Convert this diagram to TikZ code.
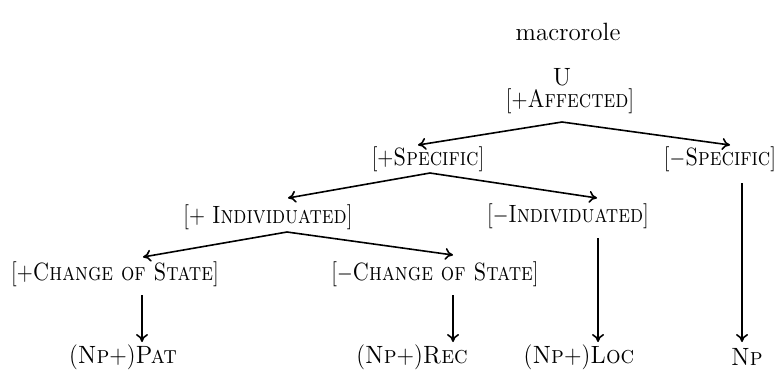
\documentclass[tikz,border=0pt]{standalone}
\usetikzlibrary{arrows.meta}
\newcommand{\nrw}[1]{\scalebox{0.84}[1]{#1}}
\newcommand{\nrwb}[1]{\scalebox{0.92}[1]{#1}}
\begin{document}
\begin{tikzpicture}[x=0.5pt,y=-0.5pt,
  lab/.style={inner sep=0pt,font=\fontsize{12.5}{15}\selectfont},
  arr/.style={-{To[length=4pt,width=6pt]},line width=0.8pt}]
\useasboundingbox (0,0) rectangle (776,372);
\node[lab] (macro) at (568,32) {macrorole};
\node[lab] (u) at (562,77) {U};
\node[lab] (aff) at (570,101) {\nrw{[+\textsc{Affected}]}};
\node[lab] (spec) at (428,159) {\nrw{[+\textsc{Specific}]}};
\node[lab] (nspec) at (720,159) {\nrw{[$-$\textsc{Specific}]}};
\node[lab] (ind) at (268,217) {\nrw{[+ \textsc{Individuated}]}};
\node[lab] (nind) at (568,216) {\nrw{[$-$\textsc{Individuated}]}};
\node[lab] (cos) at (115,274) {\nrw{[+\textsc{Change of State}]}};
\node[lab] (ncos) at (435,274) {\nrw{[$-$\textsc{Change of State}]}};
\node[lab] (pat) at (123,357) {\nrwb{(\textsc{Np}+)\textsc{Pat}}};
\node[lab] (rec) at (412,357) {\nrwb{(\textsc{Np}+)\textsc{Rec}}};
\node[lab] (loc) at (579,357) {\nrwb{(\textsc{Np}+)\textsc{Loc}}};
\node[lab] (np) at (747,357) {\nrwb{\textsc{Np}}};
% connector points
\coordinate (a1) at (562,122);
\coordinate (t1l) at (418,145);
\coordinate (t1r) at (730,145);
\coordinate (a2) at (430,173);
\coordinate (t2l) at (288,198);
\coordinate (t2r) at (597,198);
\coordinate (a3) at (287,232);
\coordinate (t3l) at (143,257);
\coordinate (t3r) at (453,255);
\coordinate (v1s) at (142,295);
\coordinate (v1e) at (142,342);
\coordinate (v2s) at (453,295);
\coordinate (v2e) at (453,342);
\coordinate (v3s) at (598,238);
\coordinate (v3e) at (598,342);
\coordinate (v4s) at (742,183);
\coordinate (v4e) at (742,342);
\draw[arr] (a1) -- (t1l);
\draw[arr] (a1) -- (t1r);
\draw[arr] (a2) -- (t2l);
\draw[arr] (a2) -- (t2r);
\draw[arr] (a3) -- (t3l);
\draw[arr] (a3) -- (t3r);
\draw[arr] (v1s) -- (v1e);
\draw[arr] (v2s) -- (v2e);
\draw[arr] (v3s) -- (v3e);
\draw[arr] (v4s) -- (v4e);
\end{tikzpicture}
\end{document}
